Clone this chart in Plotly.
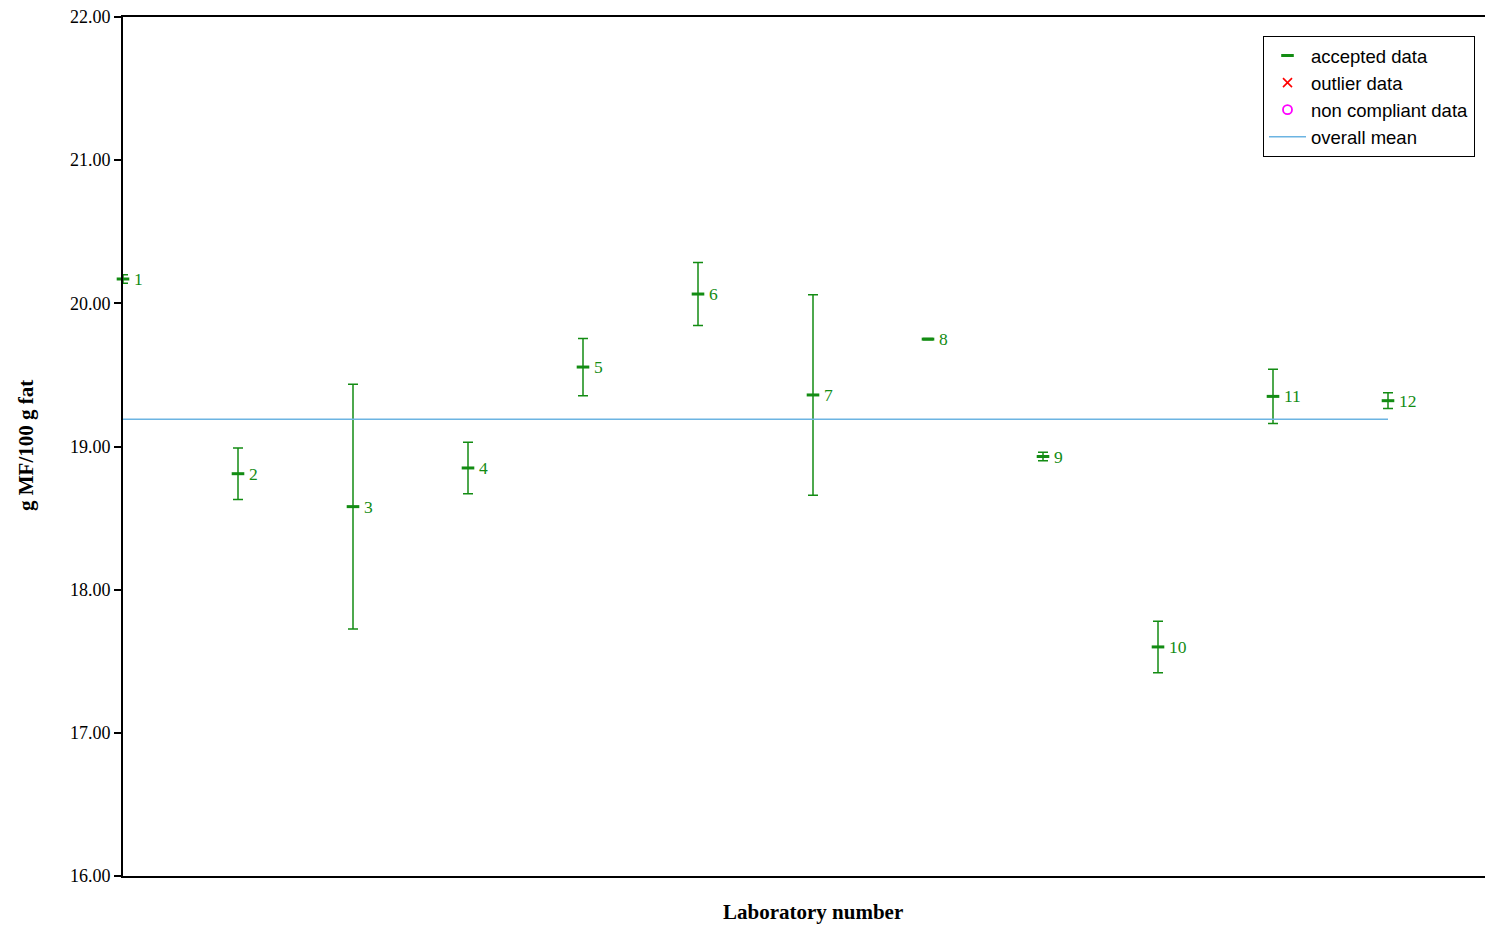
import plotly.graph_objects as go

labs = [1, 2, 3, 4, 5, 6, 7, 8, 9, 10, 11, 12]
means = [20.17, 18.81, 18.58, 18.85, 19.555, 20.065, 19.36, 19.75, 18.93, 17.60, 19.35, 19.32]
errs = [0.03, 0.18, 0.855, 0.18, 0.20, 0.22, 0.70, 0.005, 0.03, 0.18, 0.19, 0.055]
overall_mean = 19.19
y_ticks = [16, 17, 18, 19, 20, 21, 22]

GREEN = "#138c13"
fig = go.Figure()

fig.add_trace(go.Scatter(
    x=labs, y=means, mode="markers", name="accepted data", cliponaxis=False,
    marker=dict(symbol="line-ew", size=9, color=GREEN, line=dict(color=GREEN, width=3)),
    error_y=dict(type="data", array=errs, visible=True, color=GREEN, thickness=1.5, width=5),
))
fig.add_trace(go.Scatter(
    x=[None], y=[None], mode="markers", name="outlier data",
    marker=dict(symbol="x-thin", size=9, color="red", line=dict(color="red", width=1.6)),
))
fig.add_trace(go.Scatter(
    x=[None], y=[None], mode="markers", name="non compliant data",
    marker=dict(symbol="circle-open", size=9, color="magenta", line=dict(color="magenta", width=1.8)),
))
fig.add_trace(go.Scatter(
    x=[labs[0], labs[-1]], y=[overall_mean, overall_mean], mode="lines", name="overall mean",
    line=dict(color="#6cb4e2", width=1.4),
))

annotations = []
for lab, m in zip(labs, means):
    annotations.append(dict(x=lab, y=m, xref="x", yref="y", text=str(lab), showarrow=False,
                            xanchor="left", yanchor="middle", xshift=9,
                            font=dict(family="Liberation Serif", size=17.5, color=GREEN)))
annotations.append(dict(x=(813 - 123) / 1362, y=(876 - 912) / 859, xref="paper", yref="paper",
                        text="<b>Laboratory number</b>", showarrow=False, xanchor="center", yanchor="middle",
                        font=dict(family="Liberation Serif", size=21, color="black")))
annotations.append(dict(x=(26 - 123) / 1362, y=(876 - 446) / 859, xref="paper", yref="paper",
                        text="<b>g MF/100 g fat</b>", showarrow=False, xanchor="center", yanchor="middle",
                        textangle=-90,
                        font=dict(family="Liberation Serif", size=21, color="black")))

fig.update_layout(
    width=1485, height=926,
    margin=dict(l=123, r=0, t=17, b=50),
    plot_bgcolor="white", paper_bgcolor="white",
    showlegend=True,
    legend=dict(x=(1263 - 123) / 1362, y=(876 - 36) / 859, xanchor="left", yanchor="top",
                bordercolor="black", borderwidth=1, bgcolor="white",
                font=dict(family="Liberation Sans", size=18.5, color="black"),
                tracegroupgap=0, itemwidth=37),
    xaxis=dict(range=[1, 1 + 1362 / 115], showticklabels=False, ticks="", showgrid=False,
               zeroline=False, showline=True, linecolor="black", linewidth=2, mirror=True),
    yaxis=dict(range=[16, 22], tickvals=y_ticks, ticktext=[f"{v:.2f}" for v in y_ticks],
               ticks="outside", ticklen=7, tickwidth=1.5, tickcolor="black",
               showgrid=False, zeroline=False, showline=True, linecolor="black", linewidth=2,
               tickfont=dict(family="Liberation Serif", size=18, color="black")),
    annotations=annotations,
)

fig.write_html("out.html")
